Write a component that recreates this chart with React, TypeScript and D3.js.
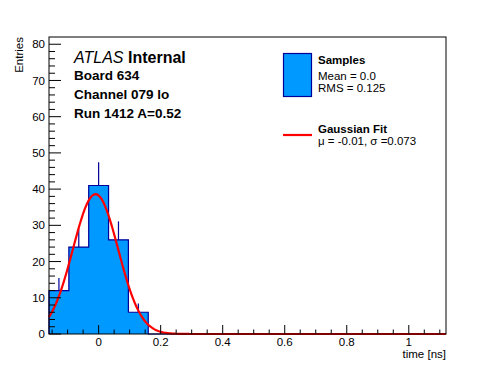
import React, { useEffect, useRef } from "react";
import * as d3 from "d3";

// histogram: 20 bins from -0.16 to 1.12 ns
const binEdgesRange = [-0.16, 1.12];
const counts = [12, 24, 41, 26, 6, 0, 0, 0, 0, 0, 0, 0, 0, 0, 0, 0, 0, 0, 0, 0];
// gaussian fit: amplitude, mean, sigma
const fitParams = [38.6, -0.01, 0.073];
const xTicks = [0, 0.2, 0.4, 0.6, 0.8, 1];
const yTicks = [0, 10, 20, 30, 40, 50, 60, 70, 80];
const labelLines = ["Board 634", "Channel 079 lo", "Run 1412 A=0.52"];
const legendSamples = ["Samples", "Mean = 0.0", "RMS = 0.125"];
const legendFit = ["Gaussian Fit", "\u03bc = -0.01, \u03c3 =0.073"];

const FONT = "'Liberation Sans', Arial, Helvetica, sans-serif";
const fillBlue = "#0099ff";
const lineBlue = "#000099";

export default function App() {
  const ref = useRef<SVGSVGElement>(null);

  useEffect(() => {
    const width = 496;
    const height = 372;
    const m = { left: 49, top: 37, right: 50, bottom: 38 };
    const svg = d3.select(ref.current);
    svg.selectAll("*").remove();
    svg.attr("width", width).attr("height", height).style("font-family", FONT);

    const x = d3
      .scaleLinear()
      .domain(binEdgesRange)
      .range([m.left, width - m.right]);
    const y = d3
      .scaleLinear()
      .domain([0, 82])
      .range([height - m.bottom, m.top]);

    const nb = counts.length;
    const bw = (binEdgesRange[1] - binEdgesRange[0]) / nb;
    const edge = (i: number) => binEdgesRange[0] + i * bw;

    svg
      .append("rect")
      .attr("width", width)
      .attr("height", height)
      .attr("fill", "white");

    // step outline, also used closed for the fill
    let p = `M${x(edge(0))},${y(0)}`;
    counts.forEach((c, i) => {
      p += `L${x(edge(i))},${y(c)}L${x(edge(i + 1))},${y(c)}`;
    });
    p += `L${x(edge(nb))},${y(0)}`;
    svg
      .append("path")
      .attr("d", p + "Z")
      .attr("fill", fillBlue)
      .attr("stroke", "none");
    svg
      .append("path")
      .attr("d", p)
      .attr("fill", "none")
      .attr("stroke", lineBlue)
      .attr("stroke-width", 1.2);

    // error bars (upper half visible)
    svg
      .append("g")
      .selectAll("line")
      .data(counts.map((c, i) => ({ c, i })).filter((d) => d.c > 0))
      .join("line")
      .attr("x1", (d) => x(edge(d.i) + bw / 2))
      .attr("x2", (d) => x(edge(d.i) + bw / 2))
      .attr("y1", (d) => y(d.c))
      .attr("y2", (d) => y(d.c + Math.sqrt(d.c)))
      .attr("stroke", lineBlue)
      .attr("stroke-width", 1.2);

    // gaussian fit
    const [amp, mu, sig] = fitParams;
    const xs = d3
      .range(0, 401)
      .map((k) => binEdgesRange[0] + (k / 400) * (binEdgesRange[1] - binEdgesRange[0]));
    const line = d3
      .line<number>()
      .x((d) => x(d))
      .y((d) => y(amp * Math.exp(-0.5 * ((d - mu) / sig) ** 2)));
    svg
      .append("path")
      .datum(xs)
      .attr("d", line)
      .attr("fill", "none")
      .attr("stroke", "#ff0000")
      .attr("stroke-width", 2.2);

    // frame
    svg
      .append("rect")
      .attr("x", m.left)
      .attr("y", m.top)
      .attr("width", width - m.left - m.right)
      .attr("height", height - m.top - m.bottom)
      .attr("fill", "none")
      .attr("stroke", "black")
      .attr("stroke-width", 1);

    // x ticks
    const xMinor = d3.range(-0.15, 1.12, 0.05);
    svg
      .append("g")
      .selectAll("line")
      .data(xMinor)
      .join("line")
      .attr("x1", (d) => x(d))
      .attr("x2", (d) => x(d))
      .attr("y1", y(0))
      .attr("y2", (d) => (xTicks.some((t) => Math.abs(t - d) < 1e-6) ? y(0) - 9 : y(0) - 4.5))
      .attr("stroke", "black");
    svg
      .append("g")
      .selectAll("text")
      .data(xTicks)
      .join("text")
      .attr("x", (d) => x(d))
      .attr("y", 346)
      .attr("text-anchor", "middle")
      .attr("font-size", 11.5)
      .text((d) => d3.format("")(d));

    // y ticks
    const yMinor = d3.range(0, 82, 2);
    svg
      .append("g")
      .selectAll("line")
      .data(yMinor)
      .join("line")
      .attr("x1", m.left)
      .attr("x2", (d) => (d % 10 === 0 ? m.left + 12 : m.left + 6))
      .attr("y1", (d) => y(d))
      .attr("y2", (d) => y(d))
      .attr("stroke", "black");
    svg
      .append("g")
      .selectAll("text")
      .data(yTicks)
      .join("text")
      .attr("x", 45)
      .attr("y", (d) => y(d))
      .attr("dy", "0.36em")
      .attr("text-anchor", "end")
      .attr("font-size", 11.5)
      .text((d) => d);

    // axis titles
    svg
      .append("text")
      .attr("transform", `translate(23,${m.top}) rotate(-90)`)
      .attr("text-anchor", "end")
      .attr("font-size", 11.5)
      .text("Entries");
    svg
      .append("text")
      .attr("x", width - m.right)
      .attr("y", 358)
      .attr("text-anchor", "end")
      .attr("font-size", 11.5)
      .text("time [ns]");

    // ATLAS label
    const atl = svg.append("text").attr("x", 74).attr("y", 63).attr("font-size", 16);
    atl.append("tspan").attr("font-style", "italic").text("ATLAS ");
    atl.append("tspan").attr("font-weight", "bold").text("Internal");
    svg
      .append("g")
      .selectAll("text")
      .data(labelLines)
      .join("text")
      .attr("x", 74)
      .attr("y", (_d, i) => 80 + i * 19.2)
      .attr("font-size", 13.5)
      .attr("font-weight", "bold")
      .text((d) => d);

    // legend
    svg
      .append("rect")
      .attr("x", 283.5)
      .attr("y", 53.5)
      .attr("width", 28)
      .attr("height", 43)
      .attr("fill", fillBlue)
      .attr("stroke", lineBlue)
      .attr("stroke-width", 1.2);
    svg
      .append("g")
      .selectAll("text")
      .data(legendSamples)
      .join("text")
      .attr("x", 318)
      .attr("y", (_d, i) => [64, 79.5, 92][i])
      .attr("font-size", 11.5)
      .attr("font-weight", (_d, i) => (i === 0 ? "bold" : "normal"))
      .text((d) => d);
    svg
      .append("line")
      .attr("x1", 283)
      .attr("x2", 312)
      .attr("y1", 135)
      .attr("y2", 135)
      .attr("stroke", "#ff0000")
      .attr("stroke-width", 2.2);
    svg
      .append("g")
      .selectAll("text")
      .data(legendFit)
      .join("text")
      .attr("x", 318)
      .attr("y", (_d, i) => [132.5, 145][i])
      .attr("font-size", 11.5)
      .attr("font-weight", (_d, i) => (i === 0 ? "bold" : "normal"))
      .text((d) => d);
  }, []);

  return (
    <svg
      ref={ref}
      style={{ position: "absolute", left: 0, top: 0, display: "block" }}
    />
  );
}
